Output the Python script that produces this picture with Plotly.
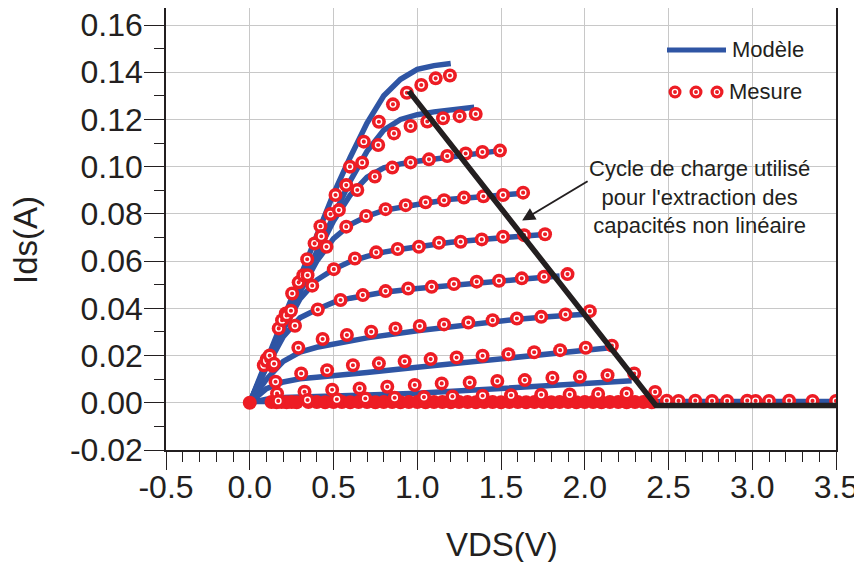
import plotly.graph_objects as go

# ---------------- data ----------------
x_tick_vals = [-0.5, 0.0, 0.5, 1.0, 1.5, 2.0, 2.5, 3.0, 3.5]
x_tick_text = ["-0.5", "0.0", "0.5", "1.0", "1.5", "2.0", "2.5", "3.0", "3.5"]
y_tick_vals = [-0.02, 0.0, 0.02, 0.04, 0.06, 0.08, 0.10, 0.12, 0.14, 0.16]
y_tick_text = ["-0.02", "0.00", "0.02", "0.04", "0.06", "0.08", "0.10", "0.12", "0.14", "0.16"]

# Model (blue lines)
m1_x = [0, 0.1, 0.2, 0.3, 0.4, 0.5, 0.6, 0.7, 0.8, 0.9, 1.0, 1.1, 1.2]
m1_y = [0, 0.018, 0.036, 0.054, 0.072, 0.0885, 0.104, 0.1185, 0.130, 0.137, 0.1412, 0.1428, 0.1437]
m2_x = [0, 0.1, 0.2, 0.3, 0.4, 0.5, 0.6, 0.7, 0.8, 0.9, 1.0, 1.1, 1.2, 1.34]
m2_y = [0, 0.0165, 0.033, 0.049, 0.064, 0.079, 0.094, 0.1065, 0.1155, 0.1200, 0.1220, 0.1232, 0.1242, 0.1252]
m3_x = [0, 0.1, 0.2, 0.3, 0.4, 0.5, 0.6, 0.7, 0.8, 0.9, 1.0, 1.2, 1.4, 1.52]
m3_y = [0, 0.0165, 0.033, 0.049, 0.063, 0.077, 0.088, 0.0955, 0.0995, 0.1012, 0.1023, 0.1043, 0.106, 0.107]
m4_x = [0, 0.1, 0.2, 0.3, 0.4, 0.5, 0.6, 0.7, 0.8, 0.9, 1.0, 1.2, 1.4, 1.65]
m4_y = [0, 0.016, 0.032, 0.047, 0.060, 0.0695, 0.0755, 0.079, 0.0815, 0.083, 0.084, 0.0862, 0.0876, 0.0888]
m5_x = [0, 0.1, 0.2, 0.3, 0.4, 0.5, 0.6, 0.7, 0.8, 0.9, 1.0, 1.2, 1.4, 1.6, 1.74]
m5_y = [0, 0.016, 0.031, 0.044, 0.052, 0.0565, 0.0598, 0.062, 0.0638, 0.065, 0.066, 0.068, 0.0693, 0.0705, 0.0712]
m6_x = [0, 0.1, 0.2, 0.3, 0.4, 0.5, 0.6, 0.8, 1.0, 1.2, 1.4, 1.6, 1.85]
m6_y = [0, 0.015, 0.028, 0.036, 0.0395, 0.0425, 0.0443, 0.0468, 0.0484, 0.0498, 0.051, 0.0522, 0.0537]
m7_x = [0, 0.1, 0.2, 0.3, 0.4, 0.5, 0.7, 1.0, 1.3, 1.6, 1.8, 2.0]
m7_y = [0, 0.010, 0.0175, 0.0215, 0.0235, 0.0248, 0.0275, 0.0305, 0.033, 0.0354, 0.0365, 0.0375]
m8_x = [0, 0.1, 0.2, 0.3, 0.4, 0.5, 0.7, 1.0, 1.3, 1.6, 1.9, 2.15]
m8_y = [0, 0.006, 0.0088, 0.0102, 0.0108, 0.0113, 0.0128, 0.0150, 0.0172, 0.0195, 0.0215, 0.0233]
m9_x = [0, 0.1, 0.2, 0.4, 0.7, 1.0, 1.3, 1.6, 1.9, 2.1, 2.28]
m9_y = [0, 0.0015, 0.0022, 0.0028, 0.0033, 0.0040, 0.0053, 0.0068, 0.0080, 0.0087, 0.0093]
m10_x = [0, 3.5]
m10_y = [0.0005, 0.0005]

# Measurements (red circles)
s1_x = [0.084, 0.173, 0.253, 0.343, 0.422, 0.512, 0.598, 0.681, 0.771, 0.855, 0.938, 1.024, 1.11, 1.195]
s1_y = [0.0159, 0.0315, 0.0463, 0.0608, 0.0748, 0.088, 0.100, 0.1106, 0.119, 0.1264, 0.1313, 0.1346, 0.1374, 0.1386]
s2_x = [0.102, 0.193, 0.292, 0.387, 0.482, 0.576, 0.671, 0.767, 0.861, 0.960, 1.060, 1.154, 1.253, 1.349]
s2_y = [0.0185, 0.035, 0.051, 0.0675, 0.0799, 0.0922, 0.1017, 0.1092, 0.1141, 0.1172, 0.1191, 0.1205, 0.1214, 0.1223]
s3_x = [0.11, 0.215, 0.32, 0.427, 0.532, 0.642, 0.747, 0.851, 0.96, 1.07, 1.179, 1.289, 1.389, 1.494]
s3_y = [0.019, 0.0378, 0.054, 0.0705, 0.0816, 0.0901, 0.0958, 0.0996, 0.1018, 0.1031, 0.1045, 0.1056, 0.1062, 0.1068]
s4_x = [0.10, 0.22, 0.345, 0.458, 0.576, 0.695, 0.811, 0.931, 1.05, 1.16, 1.279, 1.395, 1.512, 1.632]
s4_y = [0.0178, 0.037, 0.054, 0.0661, 0.0746, 0.0791, 0.082, 0.0837, 0.0849, 0.0858, 0.0869, 0.0875, 0.088, 0.089]
s5_x = [0.119, 0.246, 0.373, 0.502, 0.628, 0.755, 0.883, 1.01, 1.13, 1.259, 1.385, 1.512, 1.638, 1.763]
s5_y = [0.020, 0.039, 0.0496, 0.0566, 0.0611, 0.0637, 0.0651, 0.0661, 0.0678, 0.0682, 0.0692, 0.0703, 0.071, 0.0714]
s6_x = [0.136, 0.27, 0.406, 0.542, 0.675, 0.811, 0.946, 1.086, 1.219, 1.355, 1.488, 1.624, 1.757, 1.897]
s6_y = [0.0157, 0.0326, 0.0395, 0.0435, 0.0456, 0.0473, 0.0484, 0.0491, 0.0503, 0.0513, 0.0517, 0.0527, 0.0534, 0.0545]
s7_x = [0.145, 0.29, 0.435, 0.58, 0.725, 0.87, 1.015, 1.16, 1.305, 1.45, 1.595, 1.74, 1.885, 2.03]
s7_y = [0.0165, 0.0233, 0.027, 0.0287, 0.0301, 0.0315, 0.0325, 0.0332, 0.034, 0.035, 0.0357, 0.0364, 0.0374, 0.0388]
s8_x = [0.154, 0.307, 0.462, 0.616, 0.771, 0.925, 1.08, 1.235, 1.39, 1.544, 1.698, 1.853, 2.006, 2.162]
s8_y = [0.0089, 0.0124, 0.0138, 0.0159, 0.0167, 0.0176, 0.0185, 0.0192, 0.0199, 0.0206, 0.0214, 0.0223, 0.0233, 0.0242]
s9_x = [0.163, 0.327, 0.492, 0.656, 0.821, 0.985, 1.146, 1.313, 1.478, 1.642, 1.807, 1.971, 2.136, 2.295]
s9_y = [0.0039, 0.0047, 0.0055, 0.0061, 0.0068, 0.0075, 0.0082, 0.0086, 0.0092, 0.0096, 0.0106, 0.011, 0.0117, 0.0124]
s10_x = [0.17, 0.345, 0.52, 0.69, 0.865, 1.04, 1.21, 1.39, 1.56, 1.74, 1.91, 2.08, 2.25, 2.42,
         2.49, 2.56, 2.66, 2.76, 2.85, 2.97, 3.02, 3.1, 3.22, 3.36, 3.5]
s10_y = [0.0008, 0.0012, 0.0015, 0.0018, 0.0021, 0.0024, 0.0027, 0.003, 0.0032, 0.0034, 0.0035, 0.0037, 0.0039, 0.0046,
         0.0009, 0.0008, 0.0009, 0.0008, 0.0008, 0.0009, 0.0008, 0.0008, 0.0009, 0.0008, 0.0008]
# pinched-off measurements (dense band at ~0 A)
s0_x = [0.0, 0.13, 0.16, 0.19, 0.22, 0.25, 0.28, 0.35, 0.40, 0.45, 0.50, 0.55, 0.60, 0.65, 0.70, 0.75,
        0.80, 0.85, 0.90, 0.95, 1.00, 1.05, 1.10, 1.15, 1.20, 1.25, 1.30, 1.35, 1.40, 1.45, 1.50,
        1.55, 1.60, 1.65, 1.70, 1.75, 1.80, 1.85, 1.90, 1.95, 2.00, 2.05, 2.10, 2.15, 2.20, 2.25,
        2.30, 2.35, 2.40]
s0_y = [0.0, 0.0003, 0.0002, 0.0003, 0.0002, 0.0003, 0.0002, 0.0003, 0.0003, 0.0002, 0.0003, 0.0003, 0.0002,
        0.0003, 0.0003, 0.0002, 0.0003, 0.0003, 0.0002, 0.0003, 0.0003, 0.0002, 0.0003, 0.0003, 0.0002,
        0.0003, 0.0003, 0.0002, 0.0003, 0.0003, 0.0002, 0.0003, 0.0003, 0.0002, 0.0003, 0.0003, 0.0002,
        0.0003, 0.0003, 0.0002, 0.0003, 0.0003, 0.0002, 0.0003, 0.0003, 0.0002, 0.0003, 0.0003, 0.0002]

# Load cycle (black line)
load_x = [0.950, 2.425, 3.5]
load_y = [0.1320, -0.0011, -0.0011]

legend_labels = ["Modèle", "Mesure"]
note_text = "Cycle de charge utilisé<br>pour l'extraction des<br>capacités non linéaire"

# ---------------- styles ----------------
BLUE = "#2F55A4"
RED = "#ED1C24"
INK = "#231F20"
GRID = "#C8C8C8"
FONT = "Liberation Sans, Arial, Helvetica, sans-serif"

model = [(m1_x, m1_y), (m2_x, m2_y), (m3_x, m3_y), (m4_x, m4_y), (m5_x, m5_y),
         (m6_x, m6_y), (m7_x, m7_y), (m8_x, m8_y), (m9_x, m9_y), (m10_x, m10_y)]
meas = [(s1_x, s1_y), (s2_x, s2_y), (s3_x, s3_y), (s4_x, s4_y), (s5_x, s5_y),
        (s6_x, s6_y), (s7_x, s7_y), (s8_x, s8_y), (s9_x, s9_y), (s10_x, s10_y)]

MS = 14
fig = go.Figure()
for mx, my in model:
    fig.add_trace(go.Scatter(x=mx, y=my, mode="lines", line=dict(color=BLUE, width=5.5),
                             showlegend=False, hoverinfo="skip"))

fig.add_trace(go.Scatter(x=s0_x, y=s0_y, mode="markers",
                         marker=dict(symbol="circle", size=MS, color=RED, line=dict(width=0)),
                         showlegend=False, hoverinfo="skip"))

for sx, sy in meas:
    fig.add_trace(go.Scatter(x=sx, y=sy, mode="markers",
                             marker=dict(symbol="circle", size=MS, color=RED, line=dict(width=0)),
                             showlegend=False, hoverinfo="skip"))
    fig.add_trace(go.Scatter(x=sx, y=sy, mode="markers",
                             marker=dict(symbol="circle-open", size=5.5, color="white",
                                         line=dict(width=1.4, color="white")),
                             showlegend=False, hoverinfo="skip"))

fig.add_trace(go.Scatter(x=load_x, y=load_y, mode="lines", line=dict(color=INK, width=5.5),
                         showlegend=False, hoverinfo="skip"))

# ---------------- layout ----------------
# the page body has an 8 px margin; the figure is sized so that the plot area
# lands at page x 166..836 and page y 8..450
OFF = 8
W, H = 854, 554
L, T = 158, 0
PW = 670
PH = 442
R = W - L - PW
B = H - T - PH


def px_x(p):
    return (p - OFF - L) / PW


def px_y(p):
    return (T + PH - (p - OFF)) / PH


fig.update_layout(
    width=W, height=H,
    margin=dict(l=L, r=R, t=T, b=B, pad=0),
    paper_bgcolor="white", plot_bgcolor="white",
    font=dict(family=FONT, color=INK),
    showlegend=False,
    xaxis=dict(range=[-0.5, 3.5], tickmode="array", tickvals=x_tick_vals, ticktext=x_tick_text,
               showgrid=True, gridcolor=GRID, gridwidth=1.3, zeroline=False,
               showline=True, linecolor=INK, linewidth=1.5,
               ticks="outside", ticklen=18, tickwidth=1.3, tickcolor=INK,
               ticklabelstandoff=-10, ticklabeloverflow="allow",
               tickfont=dict(size=32, family=FONT, color=INK),
               minor=dict(dtick=0.1, tick0=0, ticks="outside", ticklen=10, tickwidth=1.3,
                          tickcolor=INK, showgrid=False)),
    yaxis=dict(range=[-0.02, 0.1672], tickmode="array", tickvals=y_tick_vals, ticktext=y_tick_text,
               showgrid=True, gridcolor=GRID, gridwidth=1.3, zeroline=False,
               showline=True, linecolor=INK, linewidth=1.5, mirror=True,
               ticks="outside", ticklen=20, tickwidth=1.3, tickcolor=INK,
               ticklabelstandoff=-5, ticklabeloverflow="allow",
               tickfont=dict(size=32, family=FONT, color=INK),
               minor=dict(dtick=0.01, tick0=0, ticks="outside", ticklen=10, tickwidth=1.3,
                          tickcolor=INK, showgrid=False)),
)

annotations = [
    dict(text="Ids(A)", xref="paper", yref="paper", x=px_x(25), y=px_y(240), textangle=-90,
         showarrow=False, xanchor="center", yanchor="middle", font=dict(size=33, family=FONT, color=INK)),
    dict(text="VDS(V)", xref="paper", yref="paper", x=px_x(502), y=px_y(544),
         showarrow=False, xanchor="center", yanchor="middle", font=dict(size=33, family=FONT, color=INK)),
    dict(text=note_text, x=2.684, y=0.0870, xref="x", yref="y", showarrow=False,
         xanchor="center", yanchor="middle", align="center", font=dict(size=22, family=FONT, color=INK)),
    dict(text="", x=1.626, y=0.0772, ax=2.026, ay=0.0942, xref="x", yref="y", axref="x", ayref="y",
         showarrow=True, arrowhead=2, arrowsize=1.3, arrowwidth=2, arrowcolor=INK),
    dict(text=legend_labels[0], xref="paper", yref="paper", x=px_x(730), y=px_y(49),
         showarrow=False, xanchor="left", yanchor="middle", font=dict(size=22, family=FONT, color=INK)),
    dict(text=legend_labels[1], xref="paper", yref="paper", x=px_x(727), y=px_y(91),
         showarrow=False, xanchor="left", yanchor="middle", font=dict(size=22, family=FONT, color=INK)),
]
fig.update_layout(annotations=annotations)

shapes = [dict(type="line", xref="paper", yref="paper", x0=px_x(667), x1=px_x(726),
               y0=px_y(50), y1=px_y(50), line=dict(color=BLUE, width=5))]
for cx in (675, 696, 717):
    shapes.append(dict(type="circle", xref="paper", yref="paper", xsizemode="pixel", ysizemode="pixel",
                       xanchor=px_x(cx), yanchor=px_y(92), x0=-6.5, x1=6.5, y0=-6.5, y1=6.5,
                       fillcolor=RED, line=dict(width=0)))
    shapes.append(dict(type="circle", xref="paper", yref="paper", xsizemode="pixel", ysizemode="pixel",
                       xanchor=px_x(cx), yanchor=px_y(92), x0=-2.6, x1=2.6, y0=-2.6, y1=2.6,
                       fillcolor="rgba(0,0,0,0)", line=dict(width=1.3, color="white")))
fig.update_layout(shapes=shapes)

fig.write_html("out.html")
